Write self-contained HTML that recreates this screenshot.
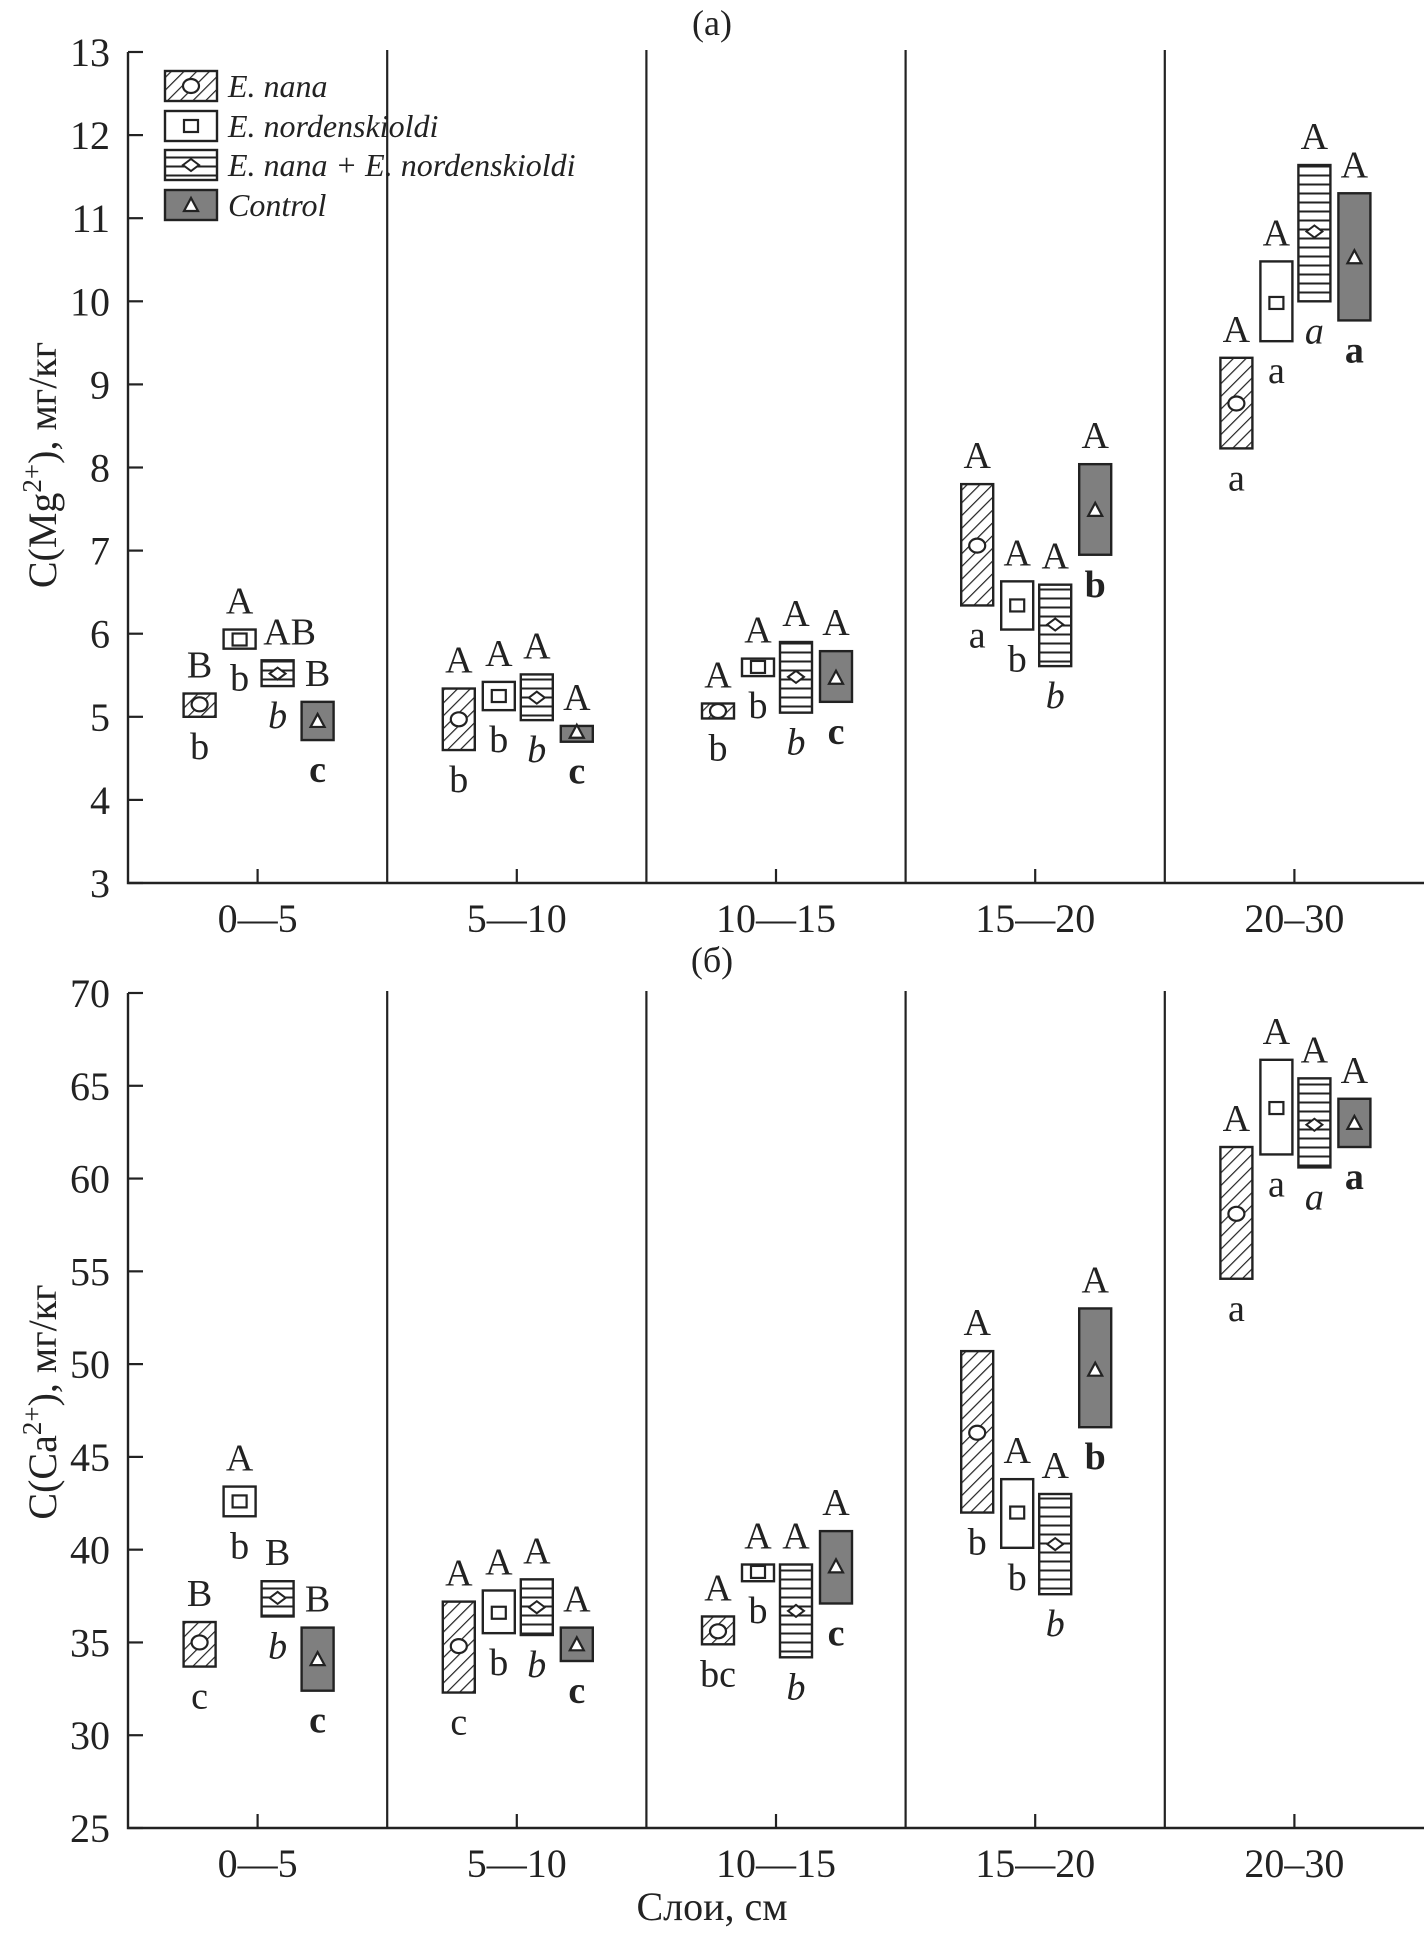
<!DOCTYPE html>
<html><head><meta charset="utf-8"><style>
body{margin:0;background:#fff;}
svg{display:block;font-family:"Liberation Serif",serif;}
</style></head><body>
<svg id="chart" width="1424" height="1934" viewBox="0 0 1424 1934" xmlns="http://www.w3.org/2000/svg">
<defs>
<pattern id="diag" patternUnits="userSpaceOnUse" width="9" height="9" patternTransform="rotate(45)">
<rect width="9" height="9" fill="#fff"/><line x1="0" y1="0" x2="0" y2="9" stroke="#222" stroke-width="2.4"/></pattern>
<pattern id="horiz" patternUnits="userSpaceOnUse" width="8" height="9">
<rect width="8" height="9" fill="#fff"/><line x1="0" y1="4.5" x2="8" y2="4.5" stroke="#222" stroke-width="2"/></pattern>
</defs>
<g id="root"></g>
</svg>
<script>
const categories = ["0\u20145","5\u201410","10\u201415","15\u201420","20\u201330"];
const seriesNames = ["E. nana","E. nordenskioldi","E. nana + E. nordenskioldi","Control"];
// Mg panel
const mgMean = [[5.15,5.93,5.52,4.95],[4.97,5.25,5.23,4.82],[5.07,5.6,5.48,5.47],[7.06,6.34,6.11,7.49],[8.77,9.98,10.84,10.53]];
const mgLow  = [[5.0,5.82,5.37,4.72],[4.6,5.08,4.96,4.7],[4.98,5.49,5.05,5.18],[6.34,6.05,5.61,6.95],[8.23,9.52,10.0,9.77]];
const mgHigh = [[5.28,6.05,5.68,5.18],[5.34,5.42,5.51,4.89],[5.16,5.7,5.9,5.79],[7.8,6.63,6.59,8.04],[9.32,10.48,11.64,11.3]];
const mgUpper = [["B","A","AB","B"],["A","A","A","A"],["A","A","A","A"],["A","A","A","A"],["A","A","A","A"]];
const mgLower = [["b","b","b","c"],["b","b","b","c"],["b","b","b","c"],["a","b","b","b"],["a","a","a","a"]];
const mgTicks = [3,4,5,6,7,8,9,10,11,12,13];
// Ca panel
const caMean = [[35.0,42.6,37.4,34.1],[34.8,36.6,36.9,34.9],[35.6,38.8,36.7,39.1],[46.3,42.0,40.3,49.7],[58.1,63.8,62.9,63.0]];
const caLow  = [[33.7,41.8,36.4,32.4],[32.3,35.5,35.4,34.0],[34.9,38.3,34.2,37.1],[42.0,40.1,37.6,46.6],[54.6,61.3,60.6,61.7]];
const caHigh = [[36.1,43.4,38.3,35.8],[37.2,37.8,38.4,35.8],[36.4,39.2,39.2,41.0],[50.7,43.8,43.0,53.0],[61.7,66.4,65.4,64.3]];
const caUpper = [["B","A","B","B"],["A","A","A","A"],["A","A","A","A"],["A","A","A","A"],["A","A","A","A"]];
const caLower = [["c","b","b","c"],["c","b","b","c"],["bc","b","b","c"],["b","b","b","b"],["a","a","a","a"]];
const caTicks = [25,30,35,40,45,50,55,60,65,70];

const NS="http://www.w3.org/2000/svg";
const root=document.getElementById('root');
function mk(tag,attrs,parent,text){const e=document.createElementNS(NS,tag);for(const k in attrs)e.setAttribute(k,attrs[k]);if(text!==undefined)e.textContent=text;(parent||root).appendChild(e);return e;}

const X0=128, CW=259.2, offsets=[-58,-18,20,60], BW=32;
const fills=["url(#diag)","#fff","url(#horiz)","#7f7f7f"];
function xCenter(ci,si){return X0+CW*ci+CW/2+offsets[si];}

function marker(g,si,cx,cy){
  let m;
  if(si===0){m=mk('ellipse',{cx:cx,cy:cy,rx:8,ry:7,fill:'#fff',stroke:'#222','stroke-width':2.2},g);}
  else if(si===1){m=mk('rect',{x:cx-7,y:cy-6,width:14,height:12,fill:'#fff',stroke:'#222','stroke-width':2.2},g);}
  else if(si===2){m=mk('polygon',{points:`${cx-8},${cy} ${cx},${cy-6} ${cx+8},${cy} ${cx},${cy+6}`,fill:'#fff',stroke:'#222','stroke-width':2},g);}
  else {m=mk('polygon',{points:`${cx-7},${cy+6} ${cx},${cy-7} ${cx+7},${cy+6}`,fill:'#fff',stroke:'#222','stroke-width':2.2},g);}
  
  
}

function panel(opt){
  const {name,yTop,yBot,vMin,vMax,ticks,mean,low,high,upper,lower,title,titleY,yLabel,yLabelSub,yLabelTail,yLabelCy}=opt;
  const g=mk('g',{},root);
  
  
  const y=v=>yBot-(v-vMin)/(vMax-vMin)*(yBot-yTop);
  const ax=mk('path',{d:`M${X0},${yTop} V${yBot} H1424`,fill:'none',stroke:'#222','stroke-width':2.4},g);
  
  
  ticks.forEach(t=>{
    const tl=mk('line',{x1:X0,x2:X0+15,y1:y(t),y2:y(t),stroke:'#222','stroke-width':2.2},g);
    
    
    const tx=mk('text',{x:X0-18,y:y(t)+14,'text-anchor':'end','font-size':40,fill:'#222'},g,String(t));
    
    
  });
  for(let i=1;i<5;i++){
    const d=mk('line',{x1:X0+CW*i,x2:X0+CW*i,y1:yTop-2,y2:yBot,stroke:'#222','stroke-width':2.2},g);
    
    
  }
  categories.forEach((c,ci)=>{
    const cx=X0+CW*ci+CW/2;
    const tl=mk('line',{x1:cx,x2:cx,y1:yBot,y2:yBot-14,stroke:'#222','stroke-width':2.2},g);
    
    
    const tx=mk('text',{x:cx,y:yBot+49,'text-anchor':'middle','font-size':40,fill:'#222'},g,c);
    
    
    for(let si=0;si<4;si++){
      const bx=xCenter(ci,si);
      const top=y(high[ci][si]), bot=y(low[ci][si]);
      const r=mk('rect',{x:bx-BW/2,y:top,width:BW,height:bot-top,fill:fills[si],stroke:'#222','stroke-width':2.4},g);
      
      
      marker(g,si,bx,y(mean[ci][si]));
      const up=mk('text',{x:bx+(upper[ci][si].length>1?12:0),y:top-16,'text-anchor':'middle','font-size':38,fill:'#222'},g,upper[ci][si]);
      
      
      const la={x:bx,y:bot+42,'text-anchor':'middle','font-size':38,fill:'#222'};
      if(si===2)la['font-style']='italic';
      if(si===3)la['font-weight']='bold';
      const lo=mk('text',la,g,lower[ci][si]);
      
      
    }
  });
  const t=mk('text',{x:712,y:titleY,'text-anchor':'middle','font-size':36,fill:'#222'},g,title);
  
  
  const yl=mk('text',{x:0,y:0,'text-anchor':'middle','font-size':40,fill:'#222',transform:`translate(56,${yLabelCy}) rotate(-90)`},g);
  
  
  mk('tspan',{},yl,yLabel);
  mk('tspan',{dy:-15,'font-size':27},yl,yLabelSub);
  mk('tspan',{dy:15},yl,yLabelTail);
}

panel({name:'panel-mg',yTop:52,yBot:883,vMin:3,vMax:13,ticks:mgTicks,mean:mgMean,low:mgLow,high:mgHigh,upper:mgUpper,lower:mgLower,title:'(a)',titleY:35,yLabel:'C(Mg',yLabelSub:'2+',yLabelTail:'), мг/кг',yLabelCy:465});
panel({name:'panel-ca',yTop:993,yBot:1828,vMin:25,vMax:70,ticks:caTicks,mean:caMean,low:caLow,high:caHigh,upper:caUpper,lower:caLower,title:'(б)',titleY:972,yLabel:'C(Ca',yLabelSub:'2+',yLabelTail:'), мг/кг',yLabelCy:1402});

const xt=mk('text',{x:712,y:1920,'text-anchor':'middle','font-size':40,fill:'#222'},root,'Слои, см');



const lg=mk('g',{},root);


const legY=[86,126,165,205];
seriesNames.forEach((n,si)=>{
  const e=mk('g',{},lg);
  
  
  mk('rect',{x:165,y:legY[si]-15,width:52,height:30,fill:fills[si],stroke:'#222','stroke-width':2.4},e);
  marker(e,si,191,legY[si]);
  mk('text',{x:228,y:legY[si]+11,'font-size':32,'font-style':'italic',fill:'#222'},e,n);
});
</script>
</body></html>
